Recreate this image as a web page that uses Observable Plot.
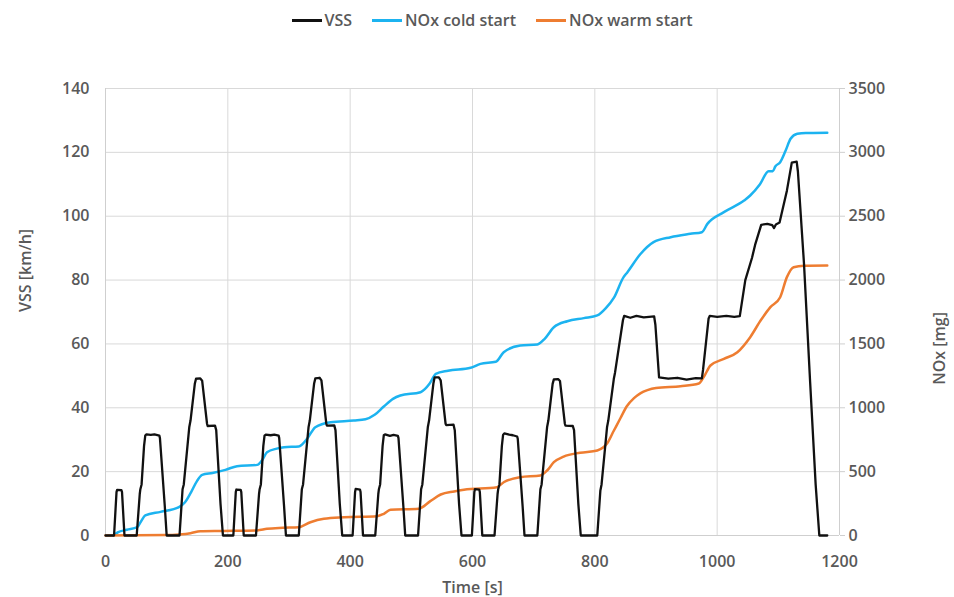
<!DOCTYPE html>
<html>
<head>
<meta charset="utf-8">
<script src="https://cdn.jsdelivr.net/npm/d3@7"></script>
<script src="https://cdn.jsdelivr.net/npm/@observablehq/plot@0.6"></script>
<style>
  html, body { margin: 0; padding: 0; background: #fff; }
  body { width: 954px; height: 597px; overflow: hidden; font-family: "Open Sans", sans-serif; }
  #legend { height: 40px; display: flex; align-items: center; justify-content: center; padding-left: 30px; box-sizing: border-box;
            font-size: 16px; font-weight: 600; color: #595959; }
  .item { display: flex; align-items: center; margin: 0 10px; }
  .sw { width: 30px; height: 3px; margin-right: 3px; }
</style>
</head>
<body>
<div id="legend"></div>
<div id="chart"></div>
<script>
// ---- data ----
const seriesNames = ["VSS", "NOx cold start", "NOx warm start"];
const seriesColors = ["#111111", "#1cb3f0", "#ee7d31"];

const xTicks = [0, 200, 400, 600, 800, 1000, 1200];
const vssTicks = [0, 20, 40, 60, 80, 100, 120, 140];
const noxTicks = [0, 500, 1000, 1500, 2000, 2500, 3000, 3500];

// VSS [km/h] : [time s, speed]
const vss = [
  [0,0],[14,0],[18,13.6],[19,14.3],[26,14.2],[27,13.6],[31,0],
  [51,0],[56,13],[57,14.5],[59,16],[63,28],[65,31.3],[67,31.7],[74,31.5],[80,31.7],[88,31.3],[89,30.5],[97,9],[100,0],
  [121,0],[126,14.5],[128,16],[137,34],[139,36],[146,47.5],[148,49.1],[155,49.2],[158,48.5],[166,35],[167,34.3],[179,34.4],[181,33],[188,10],[192,0],
  [209,0],[213,13.6],[214,14.4],[221,14.3],[222,13.6],[226,0],
  [246,0],[251,13],[252,14.5],[254,16],[258,28],[260,31.3],[262,31.6],[270,31.4],[276,31.6],[283,31.3],[284,30.5],[292,9],[295,0],
  [316,0],[321,14.5],[323,16],[332,34],[334,36],[341,47.5],[343,49.2],[350,49.4],[353,48.6],[361,35],[362,34.4],[374,34.5],[376,33],[383,10],[387,0],
  [404,0],[408,13.6],[409,14.6],[416,14.4],[417,13.6],[421,0],
  [441,0],[446,13],[447,14.5],[449,16],[453,28],[455,31.4],[457,31.7],[465,31.2],[471,31.5],[478,31.2],[479,30.5],[487,9],[490,0],
  [511,0],[516,14.5],[518,16],[527,34],[529,36],[536,47.5],[538,49.5],[545,49.5],[548,48.6],[556,35],[557,34.6],[569,34.7],[571,33],[578,10],[582,0],
  [599,0],[603,13.6],[604,14.5],[611,14.4],[612,13.6],[616,0],
  [636,0],[641,13],[642,14.5],[644,16],[648,28],[650,31.5],[652,32],[660,31.6],[666,31.4],[673,31.0],[674,30.3],[682,9],[685,0],
  [706,0],[711,14.5],[713,16],[722,34],[724,36],[731,47.5],[733,48.9],[740,49.0],[743,48.4],[751,35],[752,34.4],[764,34.3],[766,33],[773,10],[777,0],
  [804,0],[809,14],[811,16],[820,34],[822,36],[831,49],[833,51],[846,67.5],[848,68.8],[858,68.2],[868,68.8],[880,68.3],[897,68.6],[899,66],[905,49.5],
  [920,49.1],[935,49.4],[950,48.8],[965,49.3],[975,49.2],[977,52],[986,68],[988,68.8],[1000,68.5],[1015,68.8],[1028,68.5],[1037,68.7],
  [1046,80],[1057,87],[1062,91],[1072,97.3],[1082,97.6],[1090,97.2],[1093,96.3],[1096,97.4],[1102,98],[1114,108],[1122,116.8],[1130,117.1],[1132,114],
  [1142,85],[1152,48],[1161,16],[1167,0],[1180,0]
];

// NOx cold start [mg] : [time s, cumulative mg]
const noxCold = [
  [13,0],[20,25],[35,45],[52,65],[58,110],[65,157],[90,185],[120,222],[130,260],[140,340],[150,430],[158,475],[175,490],
  [196,514],[215,543],[248,553],[256,590],[264,652],[280,680],[292,691],[316,697],[330,760],[343,848],[368,887],[406,900],
  [425,910],[440,945],[455,1010],[470,1070],[482,1096],[515,1122],[530,1190],[540,1266],[560,1290],[597,1313],[613,1344],
  [638,1360],[651,1435],[678,1488],[706,1496],[718,1540],[733,1631],[755,1678],[782,1702],[804,1723],[818,1780],[831,1860],
  [847,2023],[853,2060],[875,2206],[896,2297],[924,2336],[956,2362],[975,2375],[984,2440],[1011,2532],[1044,2623],[1054,2662],
  [1070,2750],[1084,2853],[1091,2853],[1095,2889],[1103,2923],[1112,3015],[1120,3106],[1131,3145],[1145,3152],[1180,3153]
];

// NOx warm start [mg] : [time s, cumulative mg]
const noxWarm = [
  [0,0],[100,3],[120,8],[139,18],[155,34],[193,36],[248,40],[264,52],[290,60],[316,65],[335,104],[357,131],[390,143],
  [444,151],[455,170],[466,201],[512,209],[531,269],[548,321],[570,345],[586,358],[640,378],[651,417],[678,456],[711,470],
  [722,509],[733,574],[749,618],[776,648],[804,666],[814,691],[820,720],[831,820],[842,920],[852,1010],[864,1075],[875,1115],
  [886,1138],[900,1155],[940,1169],[970,1190],[978,1240],[989,1331],[1011,1383],[1033,1435],[1054,1553],[1071,1683],
  [1087,1788],[1103,1866],[1114,2023],[1125,2101],[1142,2112],[1180,2114]
];

// ---- legend ----
const leg = document.getElementById("legend");
seriesNames.forEach((n, i) => {
  const it = document.createElement("div"); it.className = "item";
  const sw = document.createElement("div"); sw.className = "sw"; sw.style.background = seriesColors[i];
  const tx = document.createElement("span"); tx.textContent = n;
  it.appendChild(sw); it.appendChild(tx); leg.appendChild(it);
});

// ---- chart ----
const K = 140 / 3500; // NOx -> VSS scale mapping for the secondary axis
const textColor = "#595959";
const gridColor = "#d9d9d9";

const chart = Plot.plot({
  width: 954,
  height: 557,
  marginTop: 48,
  marginBottom: 62,
  marginLeft: 105,
  marginRight: 115,
  x: { domain: [0, 1200] },
  y: { domain: [0, 140] },
  style: { fontFamily: "Open Sans, sans-serif", fontSize: "16px", fontWeight: 600, color: textColor, background: "#fff" },
  marks: [
    Plot.gridY(vssTicks.slice(1), { stroke: gridColor, strokeOpacity: 1, strokeWidth: 1 }),
    Plot.gridX(xTicks.slice(1, -1), { stroke: gridColor, strokeOpacity: 1, strokeWidth: 1 }),
    Plot.ruleX([0, 1200], { stroke: "#cfcfcf", strokeWidth: 1 }),
    Plot.ruleY([0], { stroke: "#cfcfcf", strokeWidth: 1 }),
    Plot.axisY(vssTicks, { anchor: "left", tickSize: 0, tickPadding: 16, label: null, fill: textColor }),
    Plot.axisY(noxTicks, { anchor: "right", y: d => d * K, tickFormat: d => String(d), tickSize: 5, tickPadding: 4,
                           stroke: "#cfcfcf", label: null, fill: textColor }),
    Plot.axisX(xTicks, { anchor: "bottom", tickSize: 0, tickPadding: 20, label: null, fill: textColor, tickFormat: d => String(d) }),
    Plot.line(noxCold, { x: d => d[0], y: d => d[1] * K, stroke: seriesColors[1], strokeWidth: 2.5, curve: "monotone-x" }),
    Plot.line(noxWarm, { x: d => d[0], y: d => d[1] * K, stroke: seriesColors[2], strokeWidth: 2.5, curve: "monotone-x" }),
    Plot.line(vss, { x: d => d[0], y: d => d[1], stroke: seriesColors[0], strokeWidth: 2.3 }),
    Plot.text(["VSS [km/h]"], { frameAnchor: "left", dx: -80, rotate: -90, fill: textColor, fontSize: 16, fontWeight: 600 }),
    Plot.text(["NOx [mg]"], { frameAnchor: "right", dx: 100, rotate: -90, fill: textColor, fontSize: 16, fontWeight: 600 }),
    Plot.text(["Time [s]"], { frameAnchor: "bottom", dy: 57, fill: textColor, fontSize: 16, fontWeight: 600 })
  ]
});
document.getElementById("chart").appendChild(chart);
</script>
</body>
</html>
